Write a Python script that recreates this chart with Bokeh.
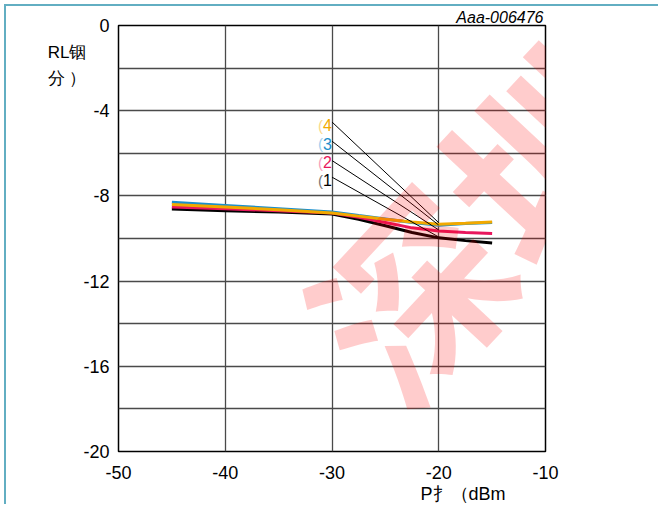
from bokeh.plotting import figure
from bokeh.models import FixedTicker, Label, Range1d, Title
from bokeh.embed import file_html
from bokeh.resources import INLINE

# ---- data ----
p_in = [-45, -40, -35, -30, -27.5, -25, -22.5, -20, -17.5, -15]
rl_1 = [-8.62, -8.70, -8.76, -8.85, -9.10, -9.40, -9.72, -9.97, -10.10, -10.21]
rl_2 = [-8.52, -8.60, -8.70, -8.80, -9.00, -9.25, -9.50, -9.65, -9.72, -9.77]
rl_3 = [-8.30, -8.45, -8.60, -8.75, -8.92, -9.08, -9.25, -9.38, -9.30, -9.25]
rl_4 = [-8.40, -8.52, -8.65, -8.80, -8.95, -9.10, -9.22, -9.33, -9.28, -9.22]

series = [("1", rl_1, "#000000", "#777777"),
          ("2", rl_2, "#E8175D", "#F7A0BC"),
          ("3", rl_3, "#1B8FCC", "#9FD0EE"),
          ("4", rl_4, "#F2A900", "#F9D98A")]

callout_x = -30
callout_text_y = [-7.27, -6.42, -5.56, -4.68]
leader_start_y = [-7.12, -6.34, -5.43, -4.53]
leader_end_x = -20
leader_end_y = [-9.93, -9.60, -9.37, -9.26]

x_ticks = [-50, -40, -30, -20, -10]
y_ticks = [-20, -16, -12, -8, -4, 0]
y_grid = [-20, -18, -16, -14, -12, -10, -8, -6, -4, -2, 0]

y_title = "RL铟\n分 ）"
x_title = "P扌（dBm"
fig_code = "Aaa-006476"

SANS = "Liberation Sans"
CJK = "Noto Sans CJK SC"

p = figure(width=654, height=500, output_backend="svg", toolbar_location=None,
           x_range=Range1d(-50, -10), y_range=Range1d(-20, 0),
           min_border_left=112, min_border_right=115, min_border_top=18, min_border_bottom=55)
p.styles = {"margin-left": "4px", "margin-top": "4px",
            "border-top": "2px solid #62AEC2", "border-left": "2px solid #62AEC2"}

p.title.text = fig_code
p.title.align = "right"
p.title.offset = 2
p.title.standoff = 0
p.title.text_font = SANS
p.title.text_font_size = "16px"
p.title.text_font_style = "italic"
p.title.text_color = "#000000"
p.title.text_line_height = 0.9

p.outline_line_color = "#000000"
p.outline_line_width = 1.5
p.background_fill_color = "white"
p.border_fill_color = "white"

p.xaxis.ticker = FixedTicker(ticks=x_ticks)
p.yaxis.ticker = FixedTicker(ticks=y_ticks)
p.xaxis.major_label_overrides = {t: str(t) for t in x_ticks}
p.yaxis.major_label_overrides = {t: str(t) for t in y_ticks}
p.xgrid.ticker = FixedTicker(ticks=x_ticks)
p.ygrid.ticker = FixedTicker(ticks=y_grid)
for g in (p.xgrid, p.ygrid):
    g.grid_line_color = "#4a4a4a"
    g.grid_line_width = 1.3

for ax in (p.xaxis, p.yaxis):
    ax.axis_line_color = None
    ax.major_tick_line_color = None
    ax.minor_tick_line_color = None
    ax.major_tick_out = 0
    ax.major_tick_in = 0
    ax.major_label_text_font = SANS
    ax.major_label_text_font_size = "18px"
    ax.major_label_text_color = "#000000"
p.xaxis.major_label_standoff = 14
p.yaxis.major_label_standoff = 9

# y axis title, horizontal, pushed to the top with blank lines
p.yaxis.axis_label = y_title + "\n\u00a0" * 13
p.yaxis.axis_label_orientation = "horizontal"
p.yaxis.axis_label_standoff = -6
p.yaxis.axis_label_text_font = SANS
p.yaxis.axis_label_text_font_size = "17px"
p.yaxis.axis_label_text_font_style = "normal"
p.yaxis.axis_label_text_color = "#000000"
p.yaxis.axis_label_text_line_height = 1.4

# x axis title as a title placed below, right of centre
p.add_layout(Title(text=x_title, align="left", offset=302, standoff=0,
                   text_font=SANS, text_font_size="18px", text_font_style="normal",
                   text_color="#000000"), "below")

# series lines
for name, ys, col, light in series:
    p.line(p_in, ys, line_color=col, line_width=3)

# leader lines
for i in range(4):
    p.segment(x0=[callout_x], y0=[leader_start_y[i]], x1=[leader_end_x], y1=[leader_end_y[i]],
              line_color="#000000", line_width=1)

# callout labels
for i, (name, ys, col, light) in enumerate(series):
    p.add_layout(Label(x=callout_x, y=callout_text_y[i], text=name, text_color=col,
                       text_font=SANS, text_font_size="16px", text_align="right",
                       text_baseline="middle"))
    p.add_layout(Label(x=callout_x, y=callout_text_y[i], x_offset=-9, text="(",
                       text_color=light, text_font=SANS, text_font_size="15px",
                       text_align="right", text_baseline="middle"))

# watermark
p.add_layout(Label(x=418, y=300, x_units="screen", y_units="screen", text="深圳市",
                   text_font=CJK, text_font_size="190px", text_font_style="bold",
                   text_color="#FF0000", text_alpha=0.2, angle=0.82,
                   text_align="center", text_baseline="middle"))

open("out.html", "w").write(file_html(p, INLINE))
